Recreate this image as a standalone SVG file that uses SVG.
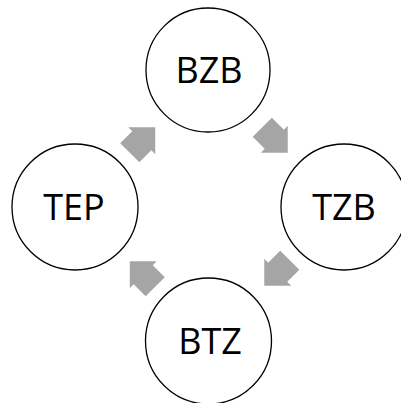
<svg xmlns="http://www.w3.org/2000/svg" width="401" height="403" viewBox="0 0 401 403">
<style>
.node circle{fill:#fff;stroke:#000;stroke-width:1.3}
.node text{font-family:"Open Sans","Noto Sans",sans-serif;font-size:36px;fill:#000;text-anchor:middle}
.arr{fill:#a5a5a5}
</style>
<defs>
<path id="blk" d="M-18,-13.5 L-1,-13.5 L-1,-19 L18,0 L-1,19 L-1,13.5 L-18,13.5 Z"/>
</defs>
<rect width="401" height="403" fill="#fff"/>
<g id="connectors">
<use href="#blk" class="arr" transform="translate(142.5,140) rotate(-45)"/>
<use href="#blk" class="arr" transform="translate(275,140) rotate(45)"/>
<use href="#blk" class="arr" transform="translate(277,273) rotate(135)"/>
<use href="#blk" class="arr" transform="translate(142.5,274) rotate(-135)"/>
</g>
<g id="BZB" class="node"><circle cx="208" cy="70" r="62"/><text x="209" y="83">BZB</text></g>
<g id="TZB" class="node"><circle cx="344" cy="207" r="63"/><text x="344" y="219.5">TZB</text></g>
<g id="BTZ" class="node"><circle cx="208.5" cy="341" r="63"/><text x="210" y="353.5">BTZ</text></g>
<g id="TEP" class="node"><circle cx="75" cy="207" r="63"/><text x="74" y="219.5">TEP</text></g>
</svg>
